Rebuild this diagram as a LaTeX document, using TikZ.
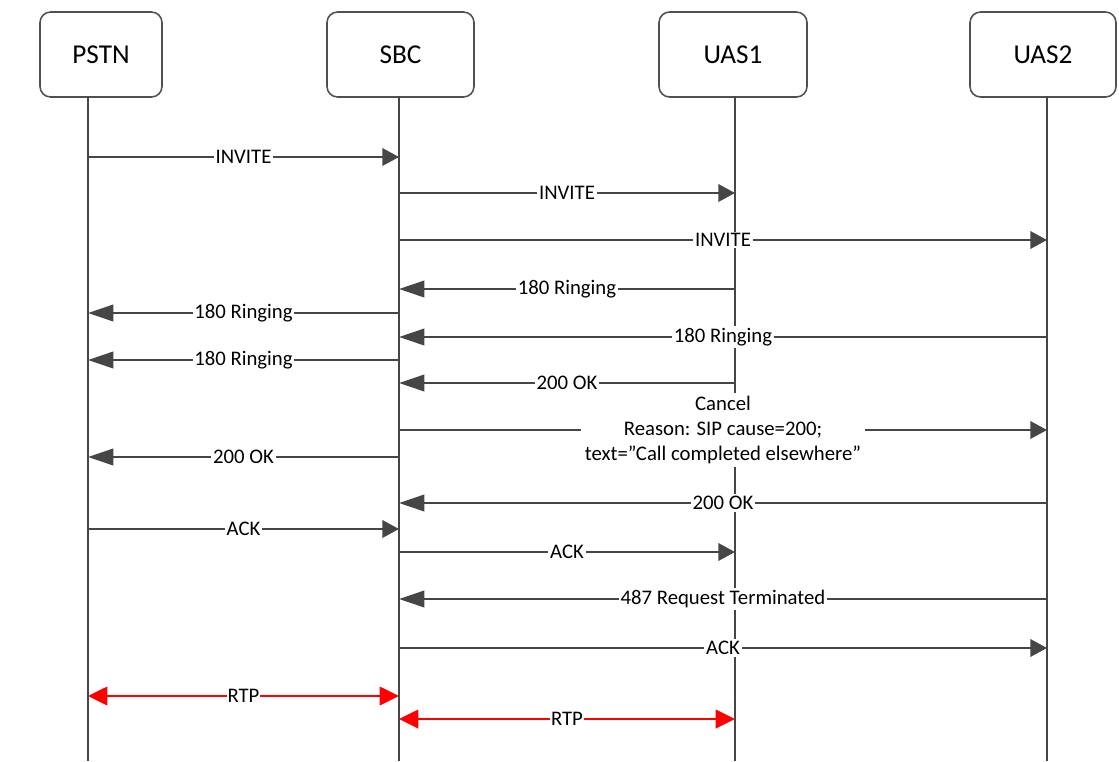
\documentclass[tikz,border=0pt]{standalone}
\usepackage{fontspec}
\setmainfont{Carlito}
\usepackage{tikz}
\usetikzlibrary{arrows.meta,positioning,calc}
\usepackage{xcolor}
\definecolor{linegray}{RGB}{70,70,70}
\definecolor{boxgray}{RGB}{80,80,80}
\definecolor{rtpred}{RGB}{255,0,0}

\begin{document}
\begin{tikzpicture}[
    x=0.02cm, y=-0.02cm,
    every node/.style={font=\fontsize{11.8}{14}\selectfont},
    entity/.style={draw=boxgray, line width=0.9pt, rounded corners=6pt, minimum height=85*0.02cm, font=\fontsize{15.5}{18}\selectfont},
    life/.style={draw=linegray, line width=1.1pt},
    msgr/.style={draw=linegray, line width=1.1pt, -{Triangle[length=9.5pt,width=10pt]}},
    msgl/.style={draw=linegray, line width=1.1pt, -{Triangle[length=14.5pt,width=9.5pt]}},
    rtp/.style={draw=rtpred, line width=1.3pt, {Triangle[length=11pt,width=10.5pt]}-{Triangle[length=11pt,width=10.5pt]}},
    lbl/.style={fill=white, inner sep=1pt}
]
\useasboundingbox (0,0) rectangle (1119,761);

% Participants
\node[entity, minimum width=122*0.02cm] (pstn) at (101,54.5) {PSTN};
\node[entity, minimum width=147*0.02cm] (sbc) at (400.5,54.5) {SBC};
\node[entity, minimum width=148*0.02cm] (uas1) at (733,54.5) {UAS1};
\node[entity, minimum width=146*0.02cm] (uas2) at (1043,54.5) {UAS2};

% Lifelines
\coordinate (pstntop) at (88,97);
\coordinate (sbctop) at (399,97);
\coordinate (uas1top) at (735,97);
\coordinate (uas2top) at (1047,97);
\foreach \p in {pstn, sbc, uas1, uas2} {
    \draw[life] (\p top) -- (\p top |- 0,761);
}

% Signalling (msgr = towards the right, msgl = towards the left)
\foreach \a/\b/\s/\y/\t in {
    pstn/sbc/msgr/157/INVITE,
    sbc/uas1/msgr/193/INVITE,
    sbc/uas2/msgr/240/INVITE,
    uas1/sbc/msgl/289/180 Ringing,
    sbc/pstn/msgl/313/180 Ringing,
    uas2/sbc/msgl/337/180 Ringing,
    sbc/pstn/msgl/360/180 Ringing,
    uas1/sbc/msgl/383/200 OK,
    sbc/pstn/msgl/457/200 OK,
    uas2/sbc/msgl/503/200 OK,
    pstn/sbc/msgr/529/ACK,
    sbc/uas1/msgr/552/ACK,
    uas2/sbc/msgl/599/487 Request Terminated,
    sbc/uas2/msgr/648/ACK} {
    \draw[\s] (\a top |- 0,\y) -- node[lbl] {\t} (\b top |- 0,\y);
}

% Cancel towards UAS2
\draw[msgr] (sbctop |- 0,430) -- node[lbl, align=center, inner sep=2pt] {Cancel\\Reason: SIP cause=200;\\text=”Call completed elsewhere”} (uas2top |- 0,430);

% Media
\draw[rtp] (pstntop |- 0,696) -- node[lbl, inner sep=0.5pt] {RTP} (sbctop |- 0,696);
\draw[rtp] (sbctop |- 0,719) -- node[lbl, inner sep=0.5pt] {RTP} (uas1top |- 0,719);
\end{tikzpicture}
\end{document}
